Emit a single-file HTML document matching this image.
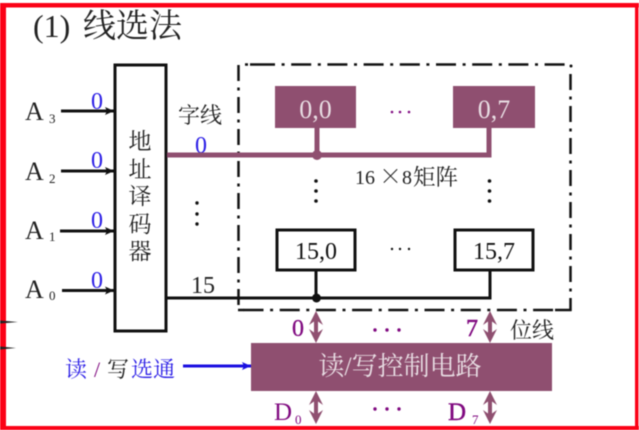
<!DOCTYPE html>
<html>
<head>
<meta charset="utf-8">
<style>
html,body{margin:0;padding:0;background:#fff;width:639px;height:430px;overflow:hidden}
svg{display:block;filter:blur(0.45px)}
text{font-family:"Liberation Serif","Noto Serif CJK SC",serif;fill:#222}
</style>
</head>
<body>
<svg width="639" height="430" viewBox="0 0 639 430" xmlns="http://www.w3.org/2000/svg">
<defs>
<marker id="ab" markerUnits="userSpaceOnUse" markerWidth="10" markerHeight="10" refX="9" refY="5" orient="auto"><path d="M0 1L9 5L0 9L2 5Z" fill="#111"/></marker>
<marker id="abl" markerUnits="userSpaceOnUse" markerWidth="10" markerHeight="10" refX="9" refY="5" orient="auto"><path d="M0 1L9 5L0 9L2 5Z" fill="#1a0fe0"/></marker>
</defs>
<rect width="639" height="430" fill="#fff"/>
<!-- red frame -->
<rect x="0" y="3" width="639" height="4.500" fill="#fb0217"/>
<rect x="0" y="3" width="6" height="427" fill="#fb0217"/>
<rect x="635" y="3" width="3.500" height="427" fill="#fb0217"/>
<rect x="0" y="426" width="639" height="4" fill="#fb0217"/>
<path d="M0 320.500L18 322L0 323.500ZM0 346.500L16 348L0 349.500Z" fill="#222"/>

<text x="33" y="37" font-size="32">(1)</text>
<text x="83" y="37" font-size="33">线选法</text>

<!-- decoder -->
<rect x="115" y="65" width="51" height="266" fill="#fff" stroke="#111" stroke-width="3"/>
<g font-size="23" text-anchor="middle">
<text x="140" y="149">地</text>
<text x="140" y="177">址</text>
<text x="140" y="204">译</text>
<text x="140" y="232">码</text>
<text x="140" y="259">器</text>
</g>

<!-- inputs -->
<g stroke="#111" stroke-width="3" fill="none">
<line x1="61" y1="111" x2="114" y2="111" marker-end="url(#ab)"/>
<line x1="61" y1="171" x2="114" y2="171" marker-end="url(#ab)"/>
<line x1="60" y1="231" x2="114" y2="231" marker-end="url(#ab)"/>
<line x1="62" y1="290.500" x2="114" y2="290.500" marker-end="url(#ab)"/>
</g>
<g font-size="26">
<text x="25" y="120">A</text><text x="49" y="123" font-size="13">3</text>
<text x="25" y="180">A</text><text x="49" y="183" font-size="13">2</text>
<text x="25" y="239">A</text><text x="49" y="241" font-size="13">1</text>
<text x="25" y="298">A</text><text x="49" y="300" font-size="13">0</text>
</g>
<g font-size="24">
<text x="91" y="109" style="fill:#2b1ee6">0</text>
<text x="91" y="168" style="fill:#2b1ee6">0</text>
<text x="91" y="228" style="fill:#2b1ee6">0</text>
<text x="91" y="288" style="fill:#2b1ee6">0</text>
<text x="195" y="153" style="fill:#2b1ee6">0</text>
</g>
<text x="178" y="123" font-size="22">字线</text>
<circle cx="197" cy="203" r="1.700" fill="#111"/><circle cx="197" cy="214" r="1.700" fill="#111"/><circle cx="197" cy="224" r="1.700" fill="#111"/>

<!-- dash-dot matrix box -->
<g fill="none" stroke="#111" stroke-width="2.500">
<line x1="238.500" y1="65" x2="238.500" y2="306" stroke-dasharray="16 6.500 3 6.500"/>
<line x1="570.500" y1="74" x2="570.500" y2="311" stroke-dasharray="16 6.500 3 6.500"/>
<line x1="255" y1="64.500" x2="565" y2="64.500" stroke-dasharray="20 6.600 3 6.600"/>
<line x1="250" y1="64.500" x2="255" y2="64.500"/>
<line x1="245" y1="64.500" x2="248" y2="64.500"/>
<line x1="243.500" y1="310" x2="555" y2="310" stroke-dasharray="20 6.600 3 6.600"/>
<line x1="238" y1="310" x2="244" y2="310"/>
<line x1="555" y1="310" x2="571.500" y2="310"/>
</g>
<circle cx="571" cy="66" r="1.500" fill="#111"/>

<!-- word lines -->
<path d="M167 155H489V128M317 155V128" fill="none" stroke="#8f4f70" stroke-width="5"/>
<circle cx="317" cy="155" r="5" fill="#8f4f70"/>
<path d="M166 298H490V270M316 298V270" fill="none" stroke="#111" stroke-width="3"/>
<circle cx="316.500" cy="298" r="4.500" fill="#111"/>

<!-- cells -->
<rect x="275" y="86" width="81" height="42" fill="#8f4f70"/>
<rect x="453" y="86" width="82" height="42" fill="#8f4f70"/>
<text x="315.500" y="118" font-size="26" text-anchor="middle" style="fill:#e8dde3">0,0</text>
<text x="494" y="118" font-size="26" text-anchor="middle" style="fill:#e8dde3">0,7</text>
<rect x="277" y="230" width="78" height="40" fill="#fff" stroke="#111" stroke-width="3"/>
<rect x="455" y="230" width="78" height="40" fill="#fff" stroke="#111" stroke-width="3"/>
<text x="316" y="259" font-size="24" text-anchor="middle" style="fill:#111">15,0</text>
<text x="494" y="259" font-size="24" text-anchor="middle" style="fill:#111">15,7</text>
<text x="203" y="293" font-size="24" text-anchor="middle">15</text>
<text x="355" y="184" font-size="20">16</text>
<text x="379" y="184" font-size="23" style='font-family:"Noto Serif CJK SC",serif'>×</text>
<text x="402" y="184" font-size="20">8</text>
<text x="413" y="185" font-size="22.500">矩阵</text>

<!-- dots -->
<g fill="#800a80"><circle cx="392" cy="112" r="1.300"/><circle cx="400" cy="112" r="1.300"/><circle cx="409" cy="112" r="1.300"/>
<circle cx="375" cy="330" r="1.700"/><circle cx="387" cy="330" r="1.700"/><circle cx="399" cy="330" r="1.700"/>
<circle cx="375" cy="409" r="1.700"/><circle cx="387" cy="409" r="1.700"/><circle cx="399" cy="409" r="1.700"/></g>
<g fill="#111"><circle cx="392" cy="249" r="1.200"/><circle cx="400" cy="249" r="1.200"/><circle cx="409" cy="249" r="1.200"/>
<circle cx="316" cy="181" r="1.800"/><circle cx="316" cy="191" r="1.800"/><circle cx="316" cy="201" r="1.800"/>
<circle cx="489.500" cy="181" r="1.800"/><circle cx="489.500" cy="191" r="1.800"/><circle cx="489.500" cy="201" r="1.800"/></g>

<!-- control -->
<rect x="251" y="343" width="301" height="48" fill="#8f4f70"/>
<text x="400" y="375" font-size="26" text-anchor="middle" style="fill:#e8dde3">读/写控制电路</text>

<!-- bidirectional arrows -->
<g fill="#8f4f70">
<path d="M316 311L323 325L318 321.500V332.500L323 329L316 343L309 329L314 332.500V321.500L309 325Z"/>
<path d="M490 311L497 325L492 321.500V332.500L497 329L490 343L483 329L488 332.500V321.500L483 325Z"/>
<path d="M316 391L323 405L318 401.500V413.500L323 410L316 424L309 410L314 413.500V401.500L309 405Z"/>
<path d="M490 391L497 405L492 401.500V413.500L497 410L490 424L483 410L488 413.500V401.500L483 405Z"/>
</g>
<text x="292" y="336" font-size="24" style="fill:#800a80;stroke:#800a80;stroke-width:.3">0</text>
<text x="466" y="336" font-size="24" style="fill:#800a80;stroke:#800a80;stroke-width:.5">7</text>
<text x="510" y="338" font-size="22">位线</text>
<text x="274" y="420" font-size="25" style="fill:#800a80">D</text><text x="295" y="424" font-size="13" style="fill:#800a80">0</text>
<text x="448" y="420" font-size="25" style="fill:#800a80;stroke:#800a80;stroke-width:.4">D</text><text x="472" y="424" font-size="13" style="fill:#800a80">7</text>

<!-- read/write strobe -->
<text x="65" y="377" font-size="22" style="fill:#2b1ee6">读</text>
<text x="94" y="377" font-size="22" style="fill:#800a80">/</text>
<text x="107" y="377" font-size="22" style="fill:#222">写</text>
<text x="131" y="377" font-size="22" style="fill:#2b1ee6">选通</text>
<line x1="183" y1="366" x2="251" y2="366" stroke="#1a0fe0" stroke-width="3" marker-end="url(#abl)"/>
</svg>
</body>
</html>
